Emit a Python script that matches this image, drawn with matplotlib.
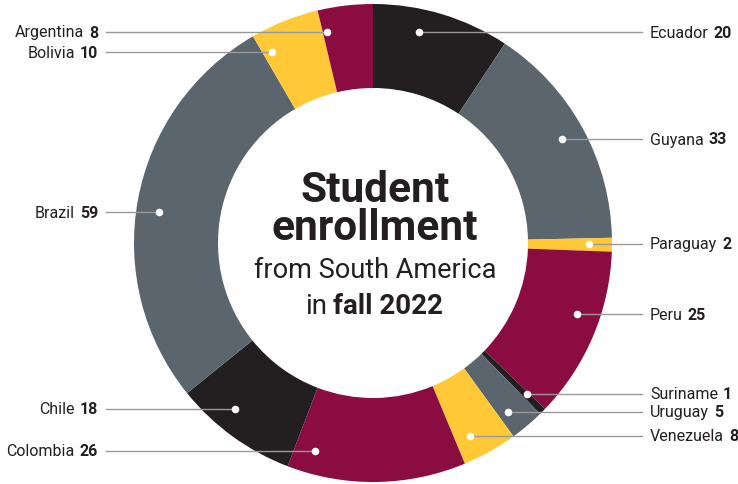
import numpy as np
import matplotlib
matplotlib.use("Agg")
import matplotlib.pyplot as plt

# данные: страны по часовой стрелке от 12 часов
countries = ["Ecuador", "Guyana", "Paraguay", "Peru", "Suriname", "Uruguay",
             "Venezuela", "Colombia", "Chile", "Brazil", "Bolivia", "Argentina"]
students = [20, 33, 2, 25, 1, 5, 8, 26, 18, 59, 10, 8]

dark = "#231f20"
slate = "#5a656d"
gold = "#ffc836"
maroon = "#8b0c41"
colors = [dark, slate, gold, maroon, dark, slate, gold, maroon, dark, slate, gold, maroon]

# вертикальные позиции подписей (пиксели сверху) и сторона подписи
label_y = [33, 140, 245, 315, 395, 413, 437, 452, 410, 213, 53, 33]
label_side = ["R", "R", "R", "R", "R", "R", "R", "L", "L", "L", "L", "L"]

W, H = 738, 485
cx, cy = 373, H - 244
R_out, R_in = 239, 155
r_dot = 216

fig = plt.figure(figsize=(W / 100, H / 100), dpi=100)
ax = fig.add_axes([0, 0, 1, 1])
ax.pie(students, colors=colors, startangle=90, counterclock=False,
       radius=R_out, center=(cx, cy), wedgeprops=dict(width=R_out - R_in, linewidth=0))
ax.set_xlim(0, W)
ax.set_ylim(0, H)
ax.set_aspect("equal")
ax.axis("off")

renderer = fig.canvas.get_renderer()
label_font = ["Roboto", "DejaVu Sans"]


def pair(x, y, a, b, ha, size, fam, gap):
    # обычный текст + жирный текст рядом
    if ha == "right":
        t2 = ax.text(x, y, b, ha="right", va="center", fontsize=size, family=fam,
                     fontweight="bold", color=dark)
        w2 = t2.get_window_extent(renderer).width
        ax.text(x - w2 - gap, y, a, ha="right", va="center", fontsize=size,
                family=fam, color=dark)
    else:
        t1 = ax.text(0, y, a, ha="left", va="center", fontsize=size, family=fam, color=dark)
        t2 = ax.text(0, y, b, ha="left", va="center", fontsize=size, family=fam,
                     fontweight="bold", color=dark)
        w1 = t1.get_window_extent(renderer).width
        w2 = t2.get_window_extent(renderer).width
        if ha == "center":
            x = x - (w1 + gap + w2) / 2
        t1.set_x(x)
        t2.set_x(x + w1 + gap)


for i, name in enumerate(countries):
    y = H - label_y[i]
    dx = np.sqrt(max(r_dot ** 2 - (y - cy) ** 2, 0))
    if label_side[i] == "R":
        xd = cx + dx
        ax.plot([xd, 642], [y, y], color="#999999", lw=1, zorder=3)
        pair(650, y, name, str(students[i]), "left", 11.5, label_font, 5)
    else:
        xd = cx - dx
        ax.plot([106, xd], [y, y], color="#999999", lw=1, zorder=3)
        pair(98, y, name, str(students[i]), "right", 11.5, label_font, 5)
    ax.scatter([xd], [y], s=30, color="white", zorder=4, linewidths=0)

# заголовок в центре
ax.text(cx + 2, H - 190, "Student", ha="center", va="center", fontsize=30.5,
        family="Roboto", fontweight="bold", color=dark)
ax.text(cx + 2, H - 229, "enrollment", ha="center", va="center", fontsize=30.5,
        family="Roboto", fontweight="bold", color=dark)
ax.text(cx + 2, H - 271, "from South America", ha="center", va="center", fontsize=19.5,
        family="Roboto", color=dark)
pair(cx + 1, H - 307, "in", "fall 2022", "center", 20, "Roboto", 6)

fig.savefig("out.png", dpi=100)
